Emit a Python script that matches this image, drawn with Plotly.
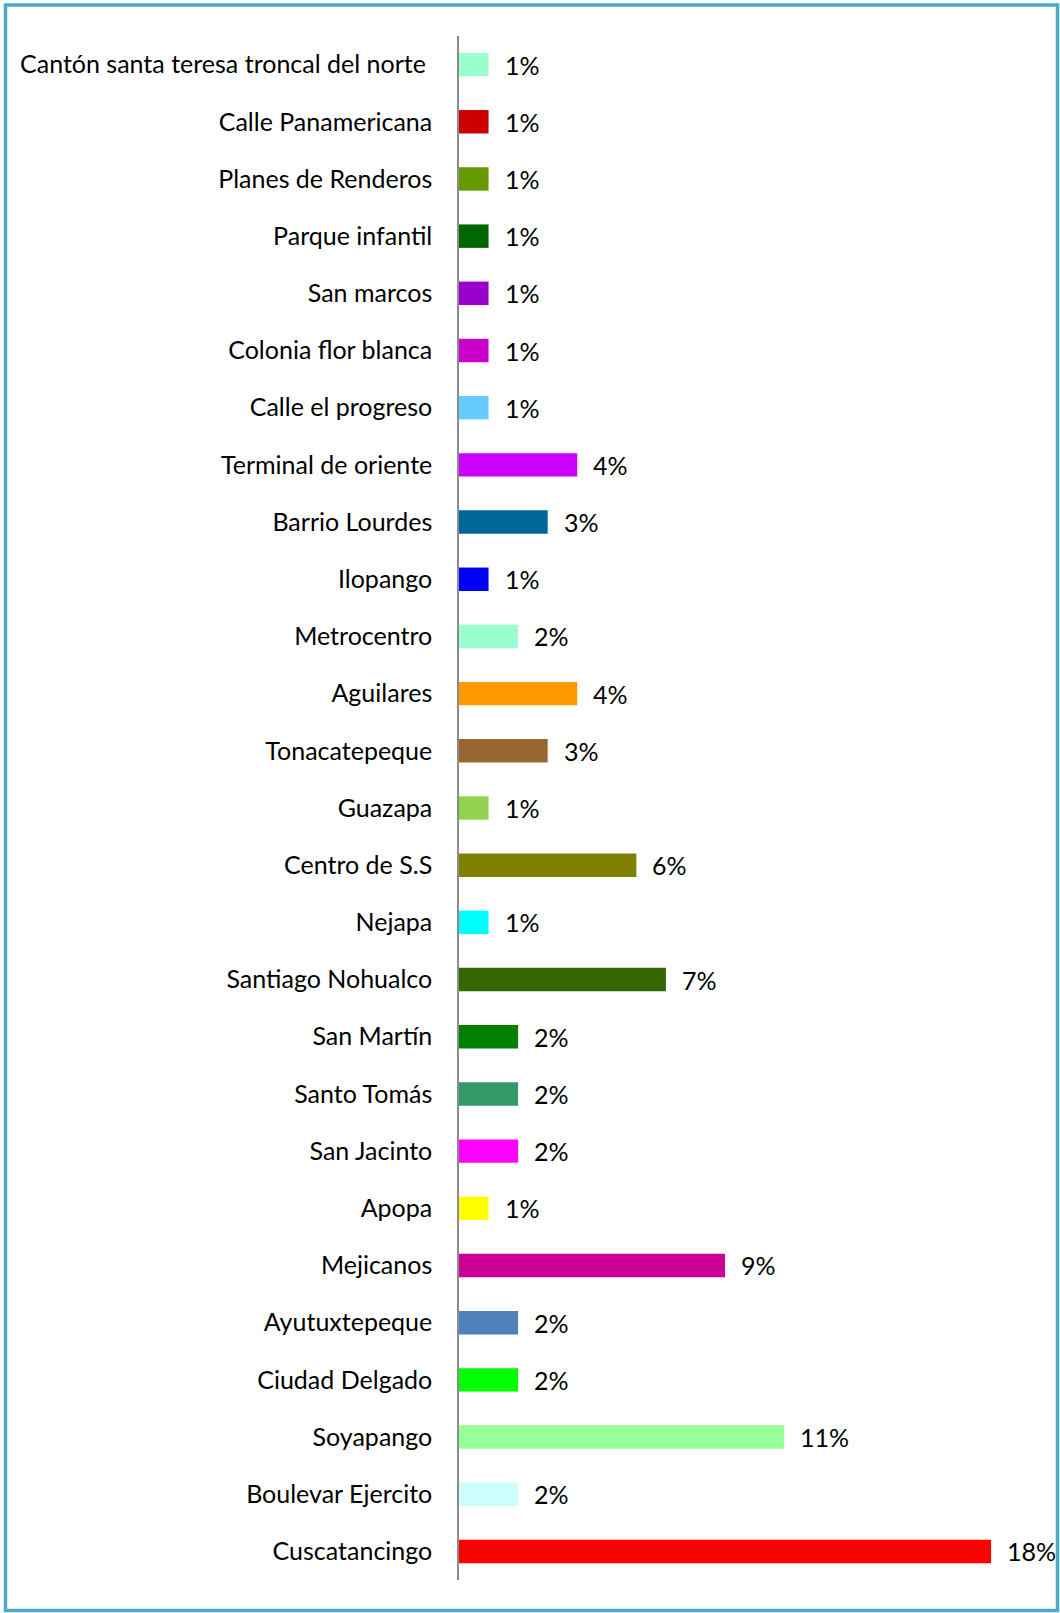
import plotly.graph_objects as go

# Locations, listed top to bottom as they appear on the chart
lugares = [
    "Cantón santa teresa troncal del norte\u00a0",
    "Calle Panamericana",
    "Planes de Renderos",
    "Parque infantil",
    "San marcos",
    "Colonia flor blanca",
    "Calle el progreso",
    "Terminal de oriente",
    "Barrio Lourdes",
    "Ilopango",
    "Metrocentro",
    "Aguilares",
    "Tonacatepeque",
    "Guazapa",
    "Centro de S.S",
    "Nejapa",
    "Santiago Nohualco",
    "San Martín",
    "Santo Tomás",
    "San Jacinto",
    "Apopa",
    "Mejicanos",
    "Ayutuxtepeque",
    "Ciudad Delgado",
    "Soyapango",
    "Boulevar Ejercito",
    "Cuscatancingo",
]

porcentajes = [1, 1, 1, 1, 1, 1, 1, 4, 3, 1, 2, 4, 3, 1, 6, 1, 7, 2, 2, 2, 1, 9, 2, 2, 11, 2, 18]

colores = [
    "#99FFCC", "#CC0000", "#669900", "#006600", "#9900CC", "#CC00CC",
    "#66CCFF", "#CC00FF", "#006699", "#0000FF", "#99FFCC", "#FF9900",
    "#996633", "#92D050", "#808000", "#00FFFF", "#336600", "#008000",
    "#339966", "#FF00FF", "#FFFF00", "#CC0099", "#4F81BD", "#00FF00",
    "#99FF99", "#CCFFFF", "#FF0000",
]

etiquetas = [f"{v}%" for v in porcentajes]

W, H = 1060, 1613
ML, MR, MT, MB = 459, 30, 36, 33
PX_PER_UNIT = 29.56
x_max = (W - ML - MR) / PX_PER_UNIT

FONT = "Lato, 'Open Sans', sans-serif"
FSIZE = 25

fig = go.Figure()
fig.add_trace(go.Bar(
    x=porcentajes,
    y=lugares,
    orientation="h",
    marker=dict(color=colores, line=dict(width=0)),
    hoverinfo="x+y",
    showlegend=False,
))

# value labels to the right of each bar
for lug, val, txt in zip(lugares, porcentajes, etiquetas):
    fig.add_annotation(
        x=val, y=lug, text=txt, showarrow=False,
        xanchor="left", yanchor="middle", xshift=14,
        font=dict(family=FONT, size=FSIZE, color="#000000"),
    )

# frame around the whole chart
pw, ph = W - ML - MR, H - MT - MB
def px_x(p):
    return (p - ML) / pw
def px_y(p):
    return (H - MB - p) / ph

fig.add_shape(
    type="rect", xref="paper", yref="paper",
    x0=px_x(5.5), x1=px_x(1057.5), y0=px_y(1610.5), y1=px_y(5),
    line=dict(color="#4BACC6", width=3.5), fillcolor="rgba(0,0,0,0)",
    layer="above",
)

fig.update_layout(
    width=W, height=H,
    margin=dict(l=ML, r=MR, t=MT, b=MB, pad=0),
    paper_bgcolor="#FFFFFF",
    plot_bgcolor="#FFFFFF",
    bargap=0.59,
    font=dict(family=FONT, size=FSIZE, color="#000000"),
    xaxis=dict(
        range=[0, x_max], visible=False, showgrid=False, zeroline=False,
        fixedrange=True,
    ),
    yaxis=dict(
        autorange="reversed",
        showline=True, linecolor="#8C8C8C", linewidth=1.5,
        showgrid=False, zeroline=False, ticks="",
        ticklabelstandoff=20,
        tickfont=dict(family=FONT, size=FSIZE, color="#000000"),
        fixedrange=True,
    ),
)

fig.write_html("out.html")
